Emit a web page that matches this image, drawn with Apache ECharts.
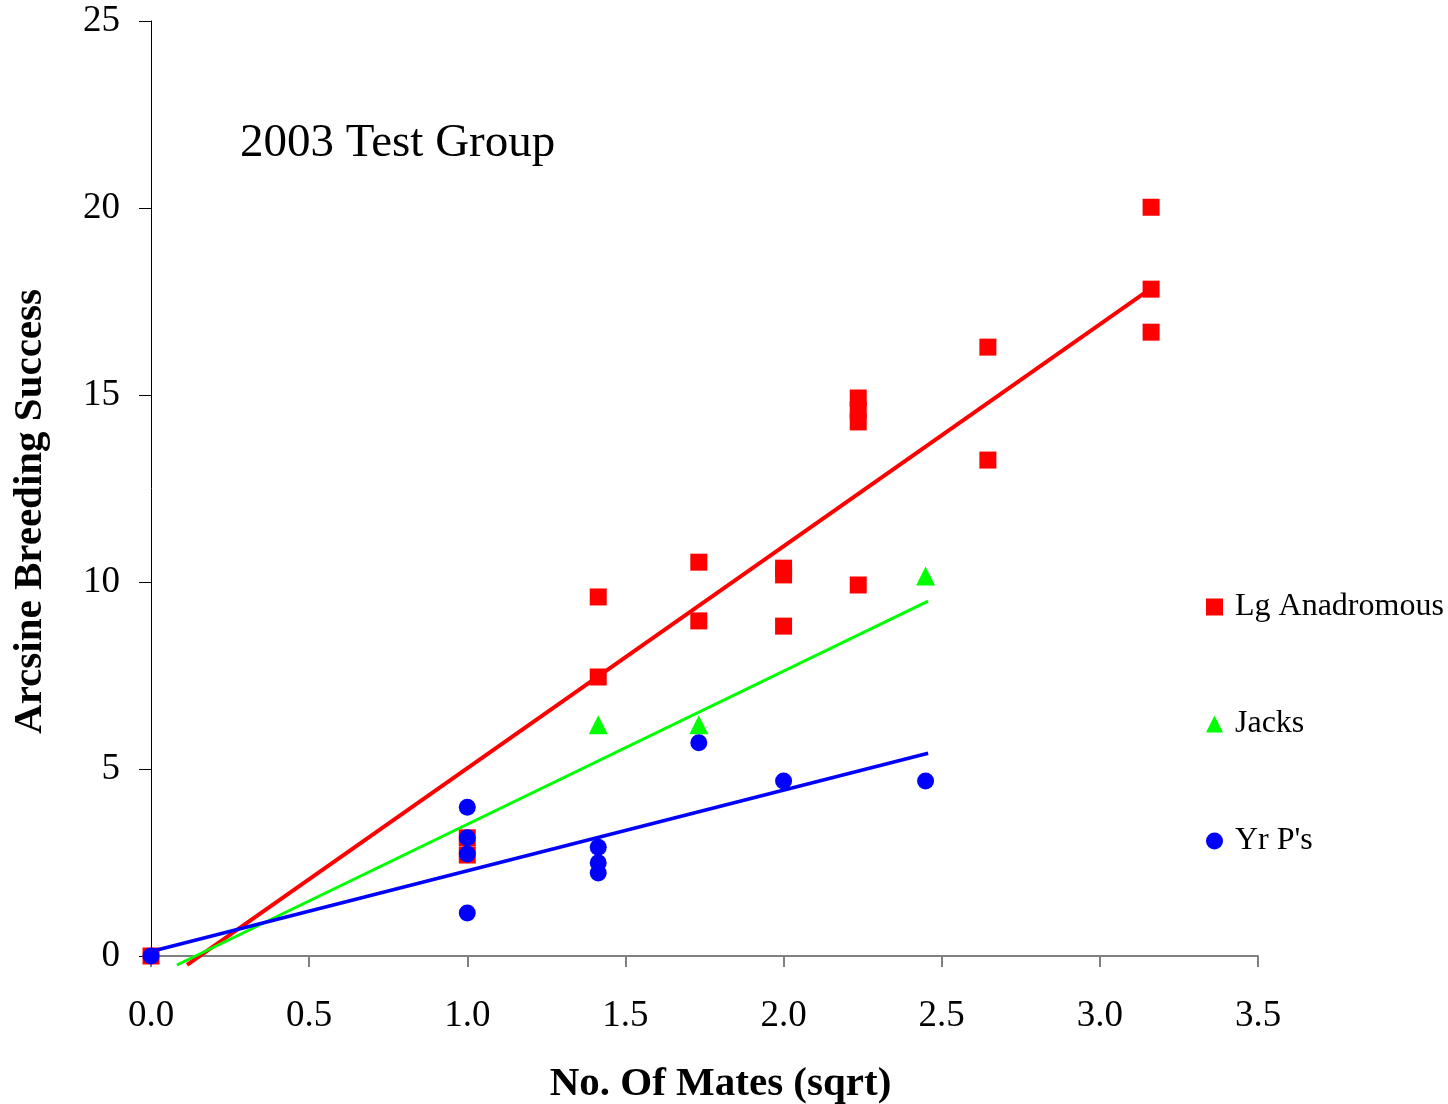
<!DOCTYPE html>
<html>
<head>
<meta charset="utf-8">
<script src="https://cdn.jsdelivr.net/npm/echarts@6/dist/echarts.min.js"></script>
<style>
html,body{margin:0;padding:0;background:#fff;}
#chart{width:1448px;height:1104px;}
</style>
</head>
<body>
<div id="chart"></div>
<script>
// Data
const lgAnadromous = [
  [0, 0], [1, 3.16], [1, 2.70],
  [1.414, 9.60], [1.414, 7.46],
  [1.732, 10.53], [1.732, 8.96],
  [2, 10.37], [2, 10.19], [2, 8.82],
  [2.236, 14.92], [2.236, 14.60], [2.236, 14.28], [2.236, 9.92],
  [2.646, 16.28], [2.646, 13.26],
  [3.162, 20.02], [3.162, 17.83], [3.162, 16.68]
];
const jacks = [
  [1.414, 6.18], [1.732, 6.18], [2.449, 10.16]
];
const yrPs = [
  [0, 0], [1, 3.98], [1, 3.16], [1, 2.73], [1, 1.15],
  [1.414, 2.91], [1.414, 2.49], [1.414, 2.22],
  [1.732, 5.70], [2, 4.68], [2.449, 4.68]
];
// Trend line end points (as drawn in the reference)
const lgTrend = [[0.114, -0.24], [3.162, 17.85]];
const jacksTrend = [[0.082, -0.24], [2.457, 9.49]];
const yrTrend = [[0, 0.12], [2.457, 5.42]];

const seriesNames = ['Lg Anadromous', 'Jacks', "Yr P's"];
const xTicks = { min: 0, max: 3.5, interval: 0.5 };
const yTicks = { min: 0, max: 25, interval: 5 };

const serif = '"Liberation Serif", "Times New Roman", serif';
const chart = echarts.init(document.getElementById('chart'));
chart.setOption({
  animation: false,
  backgroundColor: '#ffffff',
  title: {
    text: '2003 Test Group',
    left: 235, top: 115,
    textStyle: { fontFamily: serif, fontSize: 47, fontWeight: 'normal', color: '#000' }
  },
  grid: { left: 151, right: 190, top: 21, bottom: 148, containLabel: false, outerBoundsMode: 'none' },
  legend: {
    data: seriesNames,
    orient: 'vertical',
    left: 1201, top: 586,
    itemWidth: 17, itemHeight: 17,
    itemGap: 85,
    textStyle: { fontFamily: serif, fontSize: 32, color: '#000', lineHeight: 32, padding: [0, 0, 0, 7] }
  },
  xAxis: {
    type: 'value',
    min: xTicks.min, max: xTicks.max, interval: xTicks.interval,
    name: 'No. Of Mates (sqrt)',
    nameLocation: 'middle', nameGap: 108,
    nameTextStyle: { fontFamily: serif, fontSize: 41, fontWeight: 'bold', color: '#000', padding: [0, 0, 0, 32] },
    axisLine: { show: true, onZero: false, lineStyle: { color: '#808080', width: 2 } },
    axisTick: { show: true, inside: false, length: 11, lineStyle: { color: '#808080', width: 2 } },
    axisLabel: { margin: 42, fontFamily: serif, fontSize: 37, color: '#000', formatter: v => v.toFixed(1) },
    splitLine: { show: false }
  },
  yAxis: {
    type: 'value',
    min: yTicks.min, max: yTicks.max, interval: yTicks.interval,
    name: 'Arcsine Breeding Success',
    nameLocation: 'middle', nameGap: 100,
    nameTextStyle: { fontFamily: serif, fontSize: 41, fontWeight: 'bold', color: '#000', padding: [0, 46, 0, 0] },
    axisLine: { show: true, onZero: false, lineStyle: { color: '#000', width: 1 } },
    axisTick: { show: true, inside: false, length: 12, lineStyle: { color: '#000', width: 1 } },
    axisLabel: { margin: 31, fontFamily: serif, fontSize: 37, color: '#000' },
    splitLine: { show: false }
  },
  series: [
    {
      name: 'Lg Anadromous', type: 'scatter', data: lgAnadromous,
      symbol: 'rect', symbolSize: 17, itemStyle: { color: '#ff0000', opacity: 1 }, z: 2
    },
    {
      name: 'Jacks', type: 'scatter', data: jacks,
      symbol: 'triangle', symbolSize: 19, itemStyle: { color: '#00ff00', opacity: 1 }, z: 3
    },
    {
      name: "Yr P's", type: 'scatter', data: yrPs,
      symbol: 'circle', symbolSize: 17, itemStyle: { color: '#0000ff', opacity: 1 }, z: 4
    },
    {
      name: 'Lg trend', type: 'line', data: lgTrend, showSymbol: false, symbol: 'none',
      clip: false, lineStyle: { color: '#ff0000', width: 4 }, z: 5, silent: true
    },
    {
      name: 'Jacks trend', type: 'line', data: jacksTrend, showSymbol: false, symbol: 'none',
      clip: false, lineStyle: { color: '#00ff00', width: 3 }, z: 5, silent: true
    },
    {
      name: 'Yr trend', type: 'line', data: yrTrend, showSymbol: false, symbol: 'none',
      clip: false, lineStyle: { color: '#0000ff', width: 3.5 }, z: 6, silent: true
    }
  ]
});
</script>
</body>
</html>
